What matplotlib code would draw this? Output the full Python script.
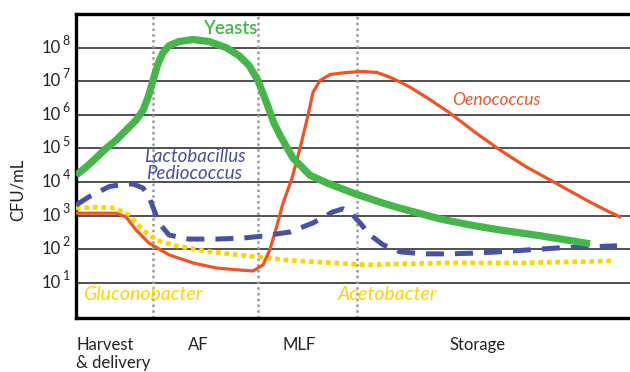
import matplotlib
matplotlib.use("Agg")
import matplotlib.pyplot as plt

# x in arbitrary time units (0 = harvest), y in log10(CFU/mL)
yeast_x = [0, 1.0, 2.0, 3.0, 4.0, 5.0, 6.0, 6.7, 7.2, 7.7, 8.2, 8.7, 9.3, 10.3, 11.7, 13.3, 15.0, 16.3, 17.3, 18.2,
           19.0, 19.8, 20.4, 21.7, 23.4, 25.1, 27.7, 30.7, 32.4, 36.4, 39.4, 42.4, 46.4, 51.4]
yeast_y = [4.20, 4.44, 4.71, 5.00, 5.24, 5.54, 5.84, 6.13, 6.52, 7.02, 7.52, 7.85, 8.06, 8.18, 8.24, 8.18, 8.00, 7.76, 7.47, 7.02,
           6.40, 5.75, 5.39, 4.71, 4.20, 3.97, 3.67, 3.37, 3.22, 2.90, 2.72, 2.57, 2.40, 2.16]

oeno_x = [0, 4.0, 5.0, 6.0, 7.3, 9.3, 11.7, 14.0, 16.3, 17.7, 18.7, 19.4, 20.0, 20.7, 21.6, 22.4, 23.2, 23.7,
          24.4, 25.4, 27.1, 28.7, 30.1, 31.7, 33.4, 35.4, 37.4, 39.9, 42.4, 44.9, 47.4, 49.4, 51.4, 52.9, 54.4]
oeno_y = [3.07, 3.07, 2.96, 2.57, 2.18, 1.83, 1.59, 1.44, 1.38, 1.35, 1.53, 2.00, 2.60, 3.37, 4.11, 5.00, 5.98, 6.67,
          7.02, 7.20, 7.26, 7.29, 7.26, 7.08, 6.82, 6.45, 6.05, 5.48, 4.95, 4.47, 4.06, 3.73, 3.40, 3.17, 2.96]

lacto_x = [0, 1.3, 3.3, 4.7, 5.7, 6.7, 7.3, 7.8, 8.3, 9.3, 11.3, 14.0, 16.7, 18.7, 20.0, 21.4, 23.7, 25.7, 26.7,
           27.4, 28.4, 29.4, 30.7, 32.4, 34.7, 37.4, 39.7, 42.4, 45.4, 48.4, 51.4, 54.1]
lacto_y = [3.31, 3.56, 3.86, 3.93, 3.94, 3.82, 3.56, 3.17, 2.78, 2.42, 2.30, 2.30, 2.33, 2.39, 2.45, 2.51, 2.78, 3.11, 3.20,
           3.11, 2.78, 2.42, 2.13, 1.92, 1.86, 1.86, 1.88, 1.92, 1.98, 2.04, 2.07, 2.10]

glucono_x = [0, 2.0, 4.0, 5.3, 6.7, 8.0, 10.0, 12.7, 15.3, 18.0, 20.0, 20.7, 25.7, 29.1, 32.4, 37.4, 44.7, 53.9]
glucono_y = [3.22, 3.25, 3.22, 3.01, 2.57, 2.27, 2.10, 1.95, 1.86, 1.77, 1.71, 1.68, 1.59, 1.53, 1.56, 1.59, 1.59, 1.65]

phase_bounds = [7.7, 18.2, 28.1]
phase_names = ["Harvest\n& delivery", "AF", "MLF", "Storage"]
phase_label_x = [0.0, 11.2, 20.6, 37.3]
decades = [1, 2, 3, 4, 5, 6, 7, 8]

green = "#45b649"
red = "#f05423"
blue = "#4851a4"
yellow = "#fdd405"

plt.rcParams["font.family"] = ["Lato", "DejaVu Sans"]

fig = plt.figure(figsize=(6.3, 3.72), dpi=100)
ax = fig.add_axes([76 / 630, 54 / 372, 554 / 630, 304 / 372])
ax.set_xlim(0, 55.4)
ax.set_ylim(-0.05, 9.0)

for d in decades:
    ax.axhline(d, color="#222222", lw=1.1, zorder=1)
for b in phase_bounds:
    ax.axvline(b, color="#999999", lw=1.8, ls=(0, (1, 1.3)), zorder=2)

ax.plot(glucono_x, glucono_y, color=yellow, lw=3.4, ls=(0, (1, 0.8)), dash_capstyle="butt", zorder=3)
ax.plot(oeno_x, oeno_y, color=red, lw=2.3, solid_joinstyle="round", zorder=4)
ax.plot(lacto_x, lacto_y, color=blue, lw=3.6, ls=(0, (3.6, 2.2)), dash_capstyle="butt", zorder=5)
ax.plot(yeast_x, yeast_y, color=green, lw=5.2, solid_joinstyle="round", solid_capstyle="butt", zorder=6)

ax.set_xticks([])
ax.set_yticks([])
for s in ["left", "top", "bottom"]:
    ax.spines[s].set_linewidth(2.4)
    ax.spines[s].set_color("black")
ax.spines["right"].set_visible(False)

# y labels: "10" with a small raised exponent
for d in decades:
    ax.text(-0.028, d, "10", transform=ax.get_yaxis_transform(), ha="right", va="center",
            fontsize=12, color="#222222")
    ax.text(-0.024, d + 0.2, str(d), transform=ax.get_yaxis_transform(), ha="left", va="center",
            fontsize=9, color="#222222")
fig.text(18 / 630, 1 - 190 / 372, "CFU/mL", rotation=90, ha="center", va="center", fontsize=12, color="#222222")

ax.text(15.4, 8.57, "Yeasts", color=green, fontsize=13.5, fontweight="semibold", ha="center", va="center")
ax.text(6.8, 4.75, "Lactobacillus", color=blue, fontsize=13.5, style="italic", ha="left", va="center")
ax.text(7.0, 4.25, "Pediococcus", color=blue, fontsize=13.5, style="italic", ha="left", va="center")
ax.text(37.6, 6.45, "Oenococcus", color=red, fontsize=12.5, style="italic", ha="left", va="center")
ax.text(0.7, 0.65, "Gluconobacter", color=yellow, fontsize=14, style="italic", ha="left", va="center")
ax.text(26.2, 0.65, "Acetobacter", color=yellow, fontsize=14, style="italic", ha="left", va="center")

for nx, name in zip(phase_label_x, phase_names):
    ax.text(nx, -0.62, name, ha="left", va="top", fontsize=12, color="#222222", linespacing=1.15)

fig.savefig("out.png", dpi=100)
